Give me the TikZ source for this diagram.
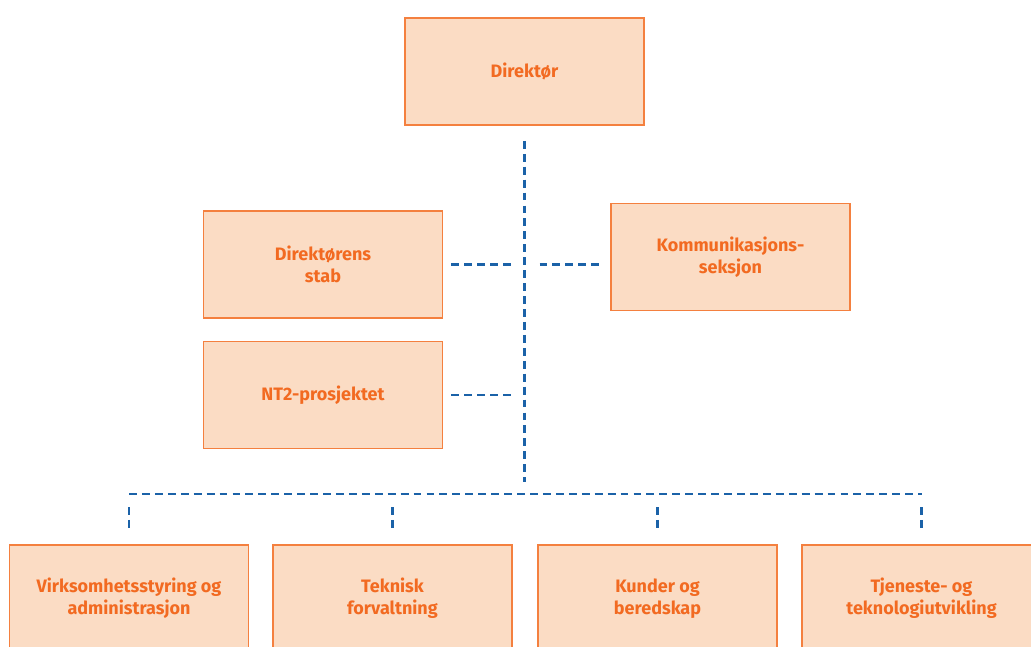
\documentclass[tikz,border=0pt]{standalone}
\usepackage{fontspec}
\setmainfont{Fira Sans}
\usetikzlibrary{calc}

\definecolor{boxfill}{HTML}{FBDCC4}
\definecolor{boxline}{HTML}{F4803F}
\definecolor{boxtext}{HTML}{F26A21}
\definecolor{linkblue}{HTML}{1B62A8}

\tikzset{
    unit/.style={draw=boxline, line width=1.2pt, fill=boxfill, text=boxtext,
        minimum width=5.975cm, minimum height=2.675cm, inner sep=0pt,
        align=center, font=\fontsize{12.8}{15.8}\selectfont\bfseries},
    link/.style={draw=linkblue, line width=1.8pt, dash pattern=on 5.6pt off 3.6pt}
}

\begin{document}
\begin{tikzpicture}[x=0.025cm, y=-0.025cm]

    \useasboundingbox (0, 0) rectangle (1031, 646);

    %% Boxes

    % Top
    \node [unit] (dir) at (524.5, 71.5) {Direktør};

    % Staff level
    \node [unit] (stab) at (323, 264.5) {Direktørens\\stab};
    \node [unit] (nt2) at (323, 395) {NT2-prosjektet};
    \node [unit] (komm) at (730.5, 257) {Kommunikasjons-\\seksjon};

    % Departments
    \node [unit] (virk) at (129, 598.5) {Virksomhetsstyring og\\administrasjon};
    \node [unit] (tek) at (392.5, 598.5) {Teknisk\\forvaltning};
    \node [unit] (kund) at (657.5, 598.5) {Kunder og\\beredskap};
    \node [unit] (tjen) at (921.5, 598.5) {Tjeneste- og\\teknologiutvikling};

    %% Lines

    % Trunk and bus
    \coordinate (busL) at (virk.north |- 0, 494);
    \coordinate (busR) at (tjen.north |- 0, 494);
    \draw [link] ($(dir.south) + (0, 15)$) -- ($(dir.south |- busL) + (0, -12)$);
    \draw [link] (busL) -- (busR);

    % Drops
    \foreach \b in {virk, tek, kund, tjen}
        \draw [link] ($(\b.north |- busL) + (0, 13)$) -- ($(\b.north) + (0, -12)$);

    % Staff
    \draw [link] ($(stab.east) + (8, 0)$) -- ($(dir.south |- stab.east) + (-12, 0)$);
    \draw [link] ($(nt2.east) + (8, 0)$) -- ($(dir.south |- nt2.east) + (-12, 0)$);
    \draw [link] ($(dir.south |- stab.east) + (15, 0)$) -- ($(komm.west |- stab.east) + (-11, 0)$);

\end{tikzpicture}
\end{document}
